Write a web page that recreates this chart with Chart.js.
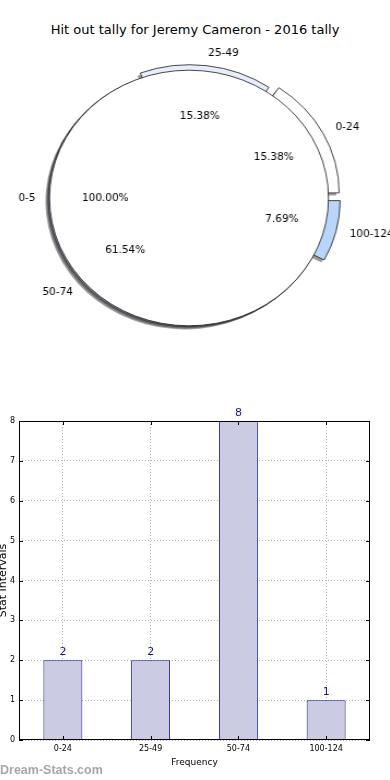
<!DOCTYPE html>
<html>
<head>
<meta charset="utf-8">
<script src="https://cdn.jsdelivr.net/npm/chart.js@4.4.0/dist/chart.umd.min.js"></script>
<style>
  html, body { margin: 0; padding: 0; background: #fff; }
  body { width: 390px; height: 780px; position: relative; overflow: hidden; font-family: "DejaVu Sans", sans-serif; }
  #title { position: absolute; left: 0; top: 21px; width: 390px; text-align: center; font-size: 13px; line-height: 18px; color: #000; }
  .pie { position: absolute; left: -11.5px; top: 28.3px; transform: scaleX(1.0915); transform-origin: 200px 170px; }
  #bar { position: absolute; left: 0; top: 400px; }
  #mark { position: absolute; left: 0; top: 763px; font: bold 12.5px "Liberation Sans", sans-serif; line-height: 14px; color: #a6a6a6; }
</style>
</head>
<body>
<div id="title">Hit out tally for Jeremy Cameron - 2016 tally</div>
<canvas id="outerPie" class="pie" width="400" height="340"></canvas>
<canvas id="innerPie" class="pie" width="400" height="340"></canvas>
<canvas id="bar" width="390" height="380"></canvas>
<div id="mark">Dream-Stats.com</div>
<script>
  "use strict";

  // data
  const categories = ["0-24", "25-49", "50-74", "100-124"];
  const tally = [2, 2, 8, 1];
  const innerLabels = ["0-5"];
  const innerValues = [1];
  const yTicks = [0, 1, 2, 3, 4, 5, 6, 7, 8];

  // styles
  const pieColors = ["#ffffff", "#e6edfb", "#b6cff5", "#b9d5fb"];
  const pieExplode = [11, 5.5, 1.5, 11];
  const R = 127.8;
  const SX = 1.0915;
  const FONT = "DejaVu Sans";
  const navy = "#14148c";
  const edge = "#1a1a1a";

  // matplotlib goes counter-clockwise from east, Chart.js clockwise: flip the order
  const flip = (arr) => arr.slice().reverse();

  // flat grey copy of each wedge, a little down and left, under the wedges
  const shadowPlugin = {
    id: "shadow",
    beforeDatasetsDraw(chart) {
      const ctx = chart.ctx;
      ctx.save();
      ctx.fillStyle = "rgba(60,60,60,0.5)";
      chart.getDatasetMeta(0).data.forEach((arc) => {
        const { x, y, startAngle, endAngle, outerRadius } = arc;
        const sx = x - 2.6, sy = y + 2.6;
        ctx.beginPath();
        if (endAngle - startAngle < Math.PI * 2 - 1e-6) ctx.moveTo(sx, sy);
        ctx.arc(sx, sy, outerRadius, startAngle, endAngle);
        ctx.closePath();
        ctx.fill();
      });
      ctx.restore();
    }
  };

  // move each exploded wedge's centre out along its middle angle
  const explodePlugin = {
    id: "explode",
    afterDatasetUpdate(chart, args) {
      const shift = flip(pieExplode);
      chart.getDatasetMeta(args.index).data.forEach((arc, i) => {
        const mid = (arc.startAngle + arc.endAngle) / 2;
        arc.x += Math.cos(mid) * shift[i];
        arc.y += Math.sin(mid) * shift[i];
      });
    }
  };

  const pieOptions = {
    responsive: false,
    animation: false,
    events: [],
    radius: R,
    rotation: 90,
    layout: { padding: 0 },
    plugins: { legend: { display: false }, tooltip: { enabled: false } }
  };

  const outerChart = new Chart(document.getElementById("outerPie"), {
    type: "pie",
    data: {
      labels: flip(categories),
      datasets: [{
        data: flip(tally),
        backgroundColor: flip(pieColors),
        borderColor: edge,
        borderWidth: 0.8
      }]
    },
    options: pieOptions,
    plugins: [explodePlugin, shadowPlugin]
  });

  const drawPieText = (ctx, meta, names, values) => {
    const total = values.reduce((s, v) => s + v, 0);
    meta.data.forEach((arc, i) => {
      const { x, y, startAngle, endAngle, outerRadius } = arc.getProps(["x", "y", "startAngle", "endAngle", "outerRadius"], true);
      const mid = (startAngle + endAngle) / 2;
      const put = (text, r, align) => {
        ctx.save();
        ctx.translate(x + Math.cos(mid) * r, y + Math.sin(mid) * r);
        ctx.scale(1 / SX, 1);
        ctx.textAlign = align;
        ctx.fillText(text, 0, 0);
        ctx.restore();
      };
      put(names[i], 1.1 * outerRadius, Math.cos(mid) > 0 ? "left" : "right");
      put((values[i] / total * 100).toFixed(2) + "%", 0.6 * outerRadius, "center");
    });
  };

  const pieLabelPlugin = {
    id: "pieLabels",
    afterDraw(chart) {
      const ctx = chart.ctx;
      const meta = chart.getDatasetMeta(0);
      // outline of the full inner pie, without the radial seam
      ctx.save();
      meta.data.forEach((arc) => {
        ctx.beginPath();
        ctx.arc(arc.x, arc.y, arc.outerRadius, 0, Math.PI * 2);
        ctx.strokeStyle = edge;
        ctx.lineWidth = 0.8;
        ctx.stroke();
      });
      ctx.font = `10.5px "${FONT}"`;
      ctx.fillStyle = "#000";
      ctx.textBaseline = "middle";
      drawPieText(ctx, outerChart.getDatasetMeta(0), flip(categories), flip(tally));
      drawPieText(ctx, meta, innerLabels, innerValues);
      ctx.restore();
    }
  };

  new Chart(document.getElementById("innerPie"), {
    type: "pie",
    data: {
      labels: innerLabels,
      datasets: [{
        data: innerValues,
        backgroundColor: "#ffffff",
        borderWidth: 0
      }]
    },
    options: pieOptions,
    plugins: [shadowPlugin, pieLabelPlugin]
  });

  // frame round the bar axes, with inward tick marks
  const framePlugin = {
    id: "frame",
    afterDraw(chart) {
      const { ctx, chartArea: a, scales } = chart;
      ctx.save();
      ctx.strokeStyle = "#000";
      ctx.lineWidth = 1;
      ctx.strokeRect(a.left + 0.5, a.top + 0.5, a.right - a.left - 1, a.bottom - a.top - 1);
      ctx.beginPath();
      yTicks.forEach((t) => {
        const py = Math.round(scales.y.getPixelForValue(t)) + 0.5;
        ctx.moveTo(a.left, py); ctx.lineTo(a.left + 4, py);
        ctx.moveTo(a.right, py); ctx.lineTo(a.right - 4, py);
      });
      categories.forEach((c, i) => {
        const px = Math.round(scales.x.getPixelForTick(i)) + 0.5;
        ctx.moveTo(px, a.bottom); ctx.lineTo(px, a.bottom - 4);
        ctx.moveTo(px, a.top); ctx.lineTo(px, a.top + 4);
      });
      ctx.stroke();
      ctx.restore();
    }
  };

  const barValuePlugin = {
    id: "barValues",
    afterDraw(chart) {
      const ctx = chart.ctx;
      ctx.save();
      ctx.font = `11px "${FONT}"`;
      ctx.fillStyle = navy;
      ctx.textAlign = "center";
      ctx.textBaseline = "alphabetic";
      chart.getDatasetMeta(0).data.forEach((bar, i) => {
        ctx.fillText(String(tally[i]), bar.x, bar.y - 5);
      });
      ctx.restore();
    }
  };

  const tickFont = { family: FONT, size: 8 };
  const gridStyle = { color: "#b4b4b4", lineWidth: 1, drawTicks: false };

  new Chart(document.getElementById("bar"), {
    type: "bar",
    data: {
      labels: categories,
      datasets: [{
        data: tally,
        backgroundColor: "#cbcbe4",
        borderColor: navy,
        borderWidth: 1,
        barPercentage: 0.444,
        categoryPercentage: 1
      }]
    },
    options: {
      responsive: false,
      animation: false,
      events: [],
      layout: { padding: { top: 21, right: 20, left: 0, bottom: 0 } },
      plugins: { legend: { display: false }, tooltip: { enabled: false } },
      scales: {
        x: {
          offset: true,
          grid: { ...gridStyle, offset: false },
          border: { display: false, dash: [1, 2] },
          ticks: { padding: 4, font: tickFont, color: "#000", maxRotation: 0 },
          title: { display: true, text: "Frequency", color: "#000", font: { family: FONT, size: 9 }, padding: { top: 0, bottom: 12 } },
          afterFit(scale) { scale.height = 40; }
        },
        y: {
          min: 0,
          max: 8,
          afterBuildTicks(scale) { scale.ticks = yTicks.map((v) => ({ value: v })); },
          grid: gridStyle,
          border: { display: false, dash: [1, 2] },
          ticks: { padding: 4, font: tickFont, color: "#000" },
          title: { display: true, text: "Stat Intervals", color: "#000", font: { family: FONT, size: 11, lineHeight: 0.55 }, padding: 0 },
          afterFit(scale) { scale.width = 19; }
        }
      }
    },
    plugins: [framePlugin, barValuePlugin]
  });
</script>
</body>
</html>
